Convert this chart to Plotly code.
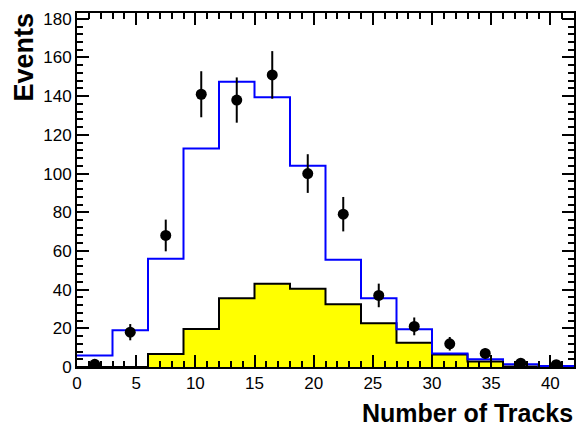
import plotly.graph_objects as go

# Bin edges (width 3) and bin centres
bin_edges = [0, 3, 6, 9, 12, 15, 18, 21, 24, 27, 30, 33, 36, 39, 42]
bin_centers = [1.5, 4.5, 7.5, 10.5, 13.5, 16.5, 19.5, 22.5, 25.5, 28.5, 31.5, 34.5, 37.5, 40.5]

# Data points (black markers) and their errors
data_values = [1.4, 18, 68, 141, 138, 151, 100, 79, 37, 21, 12, 7, 2, 1.2]
data_errors = [1.2, 4.2, 8.2, 11.9, 11.7, 12.3, 10, 8.9, 6.1, 4.6, 3.5, 2.6, 1.4, 1.1]

# Total MC prediction (blue outline)
mc_total = [6, 19, 56, 113, 147.5, 139.5, 104, 55.5, 35.5, 19.5, 7, 4, 1.4, 0.5]

# Background component (yellow filled)
mc_background = [0, 0, 6.7, 19.6, 35.5, 43, 40.5, 32.4, 22.6, 12.6, 6.5, 2.9, 0.3, 0.2]

x_ticks = [0, 5, 10, 15, 20, 25, 30, 35, 40]
y_ticks = [0, 20, 40, 60, 80, 100, 120, 140, 160, 180]


def step(values):
    return list(values) + [values[-1]]


fig = go.Figure()

fig.add_trace(go.Scatter(
    x=bin_edges, y=step(mc_background), mode="lines",
    line=dict(shape="hv", color="black", width=2),
    fill="tozeroy", fillcolor="#ffff00", hoverinfo="skip", showlegend=False,
))

fig.add_trace(go.Scatter(
    x=bin_edges, y=step(mc_total), mode="lines",
    line=dict(shape="hv", color="#0000ff", width=2),
    hoverinfo="skip", showlegend=False,
))

fig.add_trace(go.Scatter(
    x=bin_centers, y=data_values, mode="markers",
    marker=dict(color="black", size=11, symbol="circle"),
    error_y=dict(type="data", array=data_errors, visible=True,
                 color="black", thickness=2, width=0),
    showlegend=False,
))

tick_font = dict(family="Liberation Sans, Arial, sans-serif", size=17, color="black")

fig.update_layout(
    width=579, height=430,
    margin=dict(l=77, r=3, t=13, b=63),
    paper_bgcolor="white", plot_bgcolor="white",
    font=tick_font,
    xaxis=dict(
        range=[0, 42], tickvals=x_ticks, ticktext=[str(v) for v in x_ticks],
        ticks="inside", ticklen=12, tickwidth=2, tickcolor="black",
        minor=dict(dtick=1, ticks="inside", ticklen=6, tickwidth=2, tickcolor="black", showgrid=False),
        showline=True, linecolor="black", linewidth=2, mirror="allticks",
        showgrid=False, zeroline=False, tickfont=tick_font,
        ticklabelstandoff=0,
    ),
    yaxis=dict(
        range=[0, 183], tickvals=y_ticks, ticktext=[str(v) for v in y_ticks],
        ticks="inside", ticklen=12, tickwidth=2, tickcolor="black",
        minor=dict(dtick=4, ticks="inside", ticklen=6, tickwidth=2, tickcolor="black", showgrid=False),
        showline=True, linecolor="black", linewidth=2, mirror="allticks",
        showgrid=False, zeroline=False, tickfont=tick_font,
        ticklabelstandoff=0,
    ),
    annotations=[
        dict(text="<b>Number of Tracks</b>", xref="paper", yref="paper",
             x=1.0, y=0, xanchor="right", yanchor="top", yshift=-30, xshift=1,
             showarrow=False,
             font=dict(family="Liberation Sans, Arial, sans-serif", size=25, color="black")),
        dict(text="<b>Events</b>", xref="paper", yref="paper",
             x=0, y=1, xanchor="right", yanchor="top", xshift=-37, yshift=2,
             textangle=-90, showarrow=False,
             font=dict(family="Liberation Sans, Arial, sans-serif", size=27, color="black")),
    ],
)

fig.write_html(
    "out.html",
    config={"displayModeBar": False},
    post_script="document.body.style.margin='0';document.body.style.overflow='hidden';",
)
